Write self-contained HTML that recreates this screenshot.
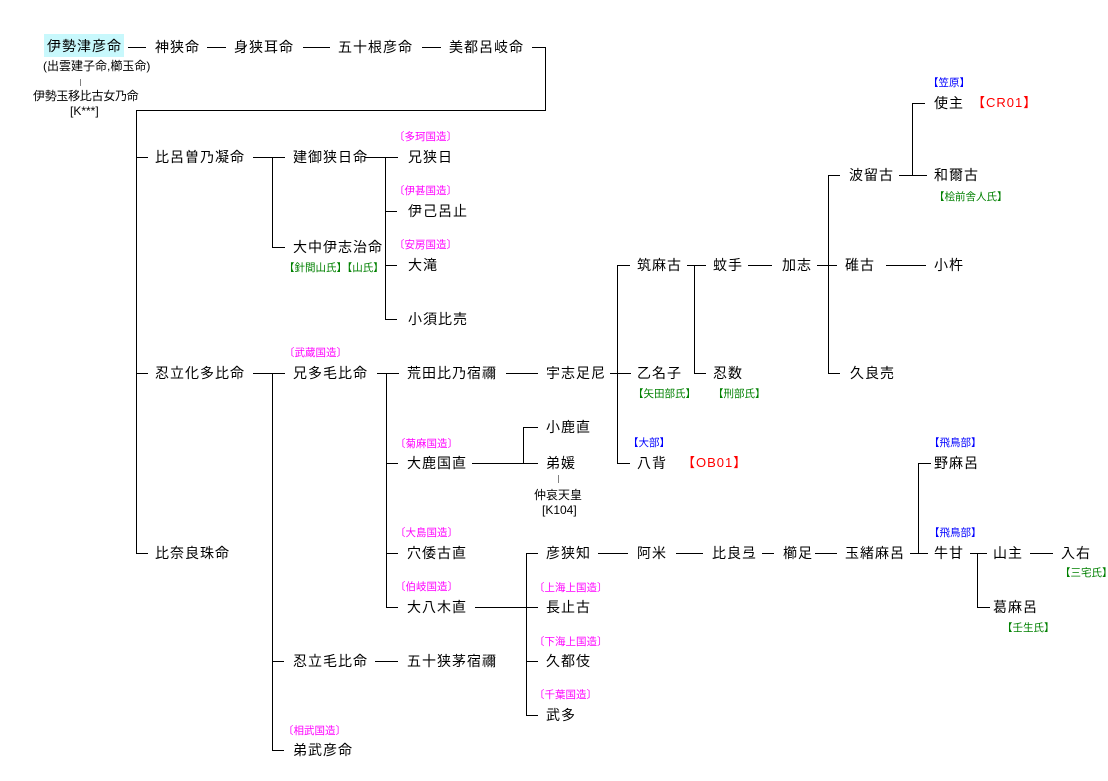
<!DOCTYPE html>
<html><head><meta charset="utf-8">
<style>
html,body{margin:0;padding:0;background:#fff;}
body{width:1108px;height:781px;position:relative;overflow:hidden;font-family:"Liberation Sans","Noto Sans CJK JP",sans-serif;}
.t{position:absolute;white-space:nowrap;font-size:14px;line-height:20px;height:20px;letter-spacing:1px;color:#000;}
.s{position:absolute;white-space:nowrap;font-size:10.5px;line-height:14px;height:14px;letter-spacing:0;}
.m{color:#ff00ff;} .g{color:#008000;} .b{color:#0000ff;}
.r{position:absolute;white-space:nowrap;font-size:13px;line-height:18px;height:18px;color:#ff0000;letter-spacing:1px;}
.k{position:absolute;white-space:nowrap;font-size:12px;line-height:16px;height:16px;color:#000;}
svg{position:absolute;left:0;top:0;}
</style></head><body>
<div style="position:absolute;left:44px;top:34px;width:80px;height:23px;background:#c8f8fc;"></div>
<svg width="1108" height="781" shape-rendering="crispEdges">
<g stroke="#000" stroke-width="1" fill="none">
<path d="M128 47.5H146 M207 47.5H226 M303 47.5H330 M422 47.5H441 M532 47.5H545.5 V110.5 H136.5 V553.5 H148"/>
<path d="M136 157.5H148 M136 373.5H148"/>
<path d="M253 157.5H285 M272.5 157V247.5H285"/>
<path d="M365 157.5H398 M385.5 157V319.5H397 M385 211.5H397 M385 265.5H397"/>
<path d="M253 373.5H285 M272.5 373V750.5H284 M272 661.5H284"/>
<path d="M377 373.5H399 M386.5 373V607.5H398 M386 463.5H398 M386 553.5H398"/>
<path d="M506 373.5H538"/>
<path d="M610 373.5H631 M630 265.5H617.5V463.5H630"/>
<path d="M472 463.5H538 M538 427.5H523.5V463"/>
<path d="M475 607.5H538 M538 553.5H526.5V715.5H538 M526 661.5H538"/>
<path d="M375 661.5H398"/>
<path d="M598 553.5H628 M676 553.5H703 M762 553.5H774 M815 553.5H837 M910 553.5H928 M970 553.5H987 M1030 553.5H1053"/>
<path d="M931 463.5H918.5V553"/>
<path d="M977.5 553V607.5H990"/>
<path d="M687 265.5H706 M694.5 265V373.5H706"/>
<path d="M748 265.5H772 M817 265.5H837 M840 175.5H828.5V373.5H840"/>
<path d="M886 265.5H926"/>
<path d="M899 175.5H927 M925 103.5H912.5V175"/>
</g>
<g stroke="#808080" stroke-width="1">
<path d="M80.5 79V86 M558.5 475V483"/>
</g>
</svg>

<div class="t" style="left:47px;top:36px;">伊勢津彦命</div>
<div class="t" style="left:155px;top:37px;">神狭命</div>
<div class="t" style="left:234px;top:37px;">身狭耳命</div>
<div class="t" style="left:338px;top:37px;">五十根彦命</div>
<div class="t" style="left:449px;top:37px;">美都呂岐命</div>

<div class="k" style="left:43px;top:58px;">(出雲建子命,櫛玉命)</div>
<div class="k" style="left:33px;top:88px;letter-spacing:-0.3px;">伊勢玉移比古女乃命</div>
<div class="k" style="left:70px;top:103px;">[K***]</div>

<div class="t" style="left:155px;top:147px;">比呂曽乃凝命</div>
<div class="t" style="left:293px;top:147px;">建御狭日命</div>
<div class="t" style="left:408px;top:147px;">兄狭日</div>
<div class="t" style="left:408px;top:201px;">伊己呂止</div>
<div class="t" style="left:293px;top:237px;">大中伊志治命</div>
<div class="t" style="left:408px;top:255px;">大滝</div>
<div class="t" style="left:408px;top:309px;">小須比売</div>

<div class="t" style="left:155px;top:363px;">忍立化多比命</div>
<div class="t" style="left:293px;top:363px;">兄多毛比命</div>
<div class="t" style="left:407px;top:363px;">荒田比乃宿禰</div>
<div class="t" style="left:546px;top:363px;">宇志足尼</div>
<div class="t" style="left:637px;top:363px;">乙名子</div>
<div class="t" style="left:713px;top:363px;">忍数</div>
<div class="t" style="left:850px;top:363px;">久良売</div>

<div class="t" style="left:546px;top:417px;">小鹿直</div>
<div class="t" style="left:407px;top:453px;">大鹿国直</div>
<div class="t" style="left:546px;top:453px;">弟媛</div>
<div class="t" style="left:637px;top:453px;">八背</div>
<div class="t" style="left:934px;top:453px;">野麻呂</div>

<div class="k" style="left:534px;top:487px;">仲哀天皇</div>
<div class="k" style="left:542px;top:502px;">[K104]</div>

<div class="t" style="left:155px;top:543px;">比奈良珠命</div>
<div class="t" style="left:407px;top:543px;">穴倭古直</div>
<div class="t" style="left:546px;top:543px;">彦狭知</div>
<div class="t" style="left:637px;top:543px;">阿米</div>
<div class="t" style="left:712px;top:543px;">比良弖</div>
<div class="t" style="left:783px;top:543px;">櫛足</div>
<div class="t" style="left:845px;top:543px;">玉緒麻呂</div>
<div class="t" style="left:934px;top:543px;">牛甘</div>
<div class="t" style="left:993px;top:543px;">山主</div>
<div class="t" style="left:1061px;top:543px;">入右</div>

<div class="t" style="left:407px;top:597px;">大八木直</div>
<div class="t" style="left:546px;top:597px;">長止古</div>
<div class="t" style="left:993px;top:597px;">葛麻呂</div>
<div class="t" style="left:293px;top:651px;">忍立毛比命</div>
<div class="t" style="left:407px;top:651px;">五十狭茅宿禰</div>
<div class="t" style="left:546px;top:651px;">久都伎</div>
<div class="t" style="left:546px;top:705px;">武多</div>
<div class="t" style="left:293px;top:740px;">弟武彦命</div>

<div class="t" style="left:637px;top:255px;">筑麻古</div>
<div class="t" style="left:713px;top:255px;">蚊手</div>
<div class="t" style="left:782px;top:255px;">加志</div>
<div class="t" style="left:845px;top:255px;">碓古</div>
<div class="t" style="left:934px;top:255px;">小杵</div>
<div class="t" style="left:849px;top:165px;">波留古</div>
<div class="t" style="left:934px;top:93px;">使主</div>
<div class="t" style="left:934px;top:165px;">和爾古</div>

<div class="s m" style="left:394px;top:130px;">〔多珂国造〕</div>
<div class="s m" style="left:394px;top:184px;">〔伊甚国造〕</div>
<div class="s m" style="left:394px;top:238px;">〔安房国造〕</div>
<div class="s g" style="left:284px;top:261px;">【針間山氏】【山氏】</div>
<div class="s m" style="left:284px;top:346px;">〔武蔵国造〕</div>
<div class="s m" style="left:395px;top:437px;">〔菊麻国造〕</div>
<div class="s m" style="left:395px;top:526px;">〔大島国造〕</div>
<div class="s m" style="left:395px;top:580px;">〔伯岐国造〕</div>
<div class="s m" style="left:534px;top:581px;">〔上海上国造〕</div>
<div class="s m" style="left:534px;top:635px;">〔下海上国造〕</div>
<div class="s m" style="left:534px;top:688px;">〔千葉国造〕</div>
<div class="s m" style="left:283px;top:724px;">〔相武国造〕</div>
<div class="s g" style="left:633px;top:387px;">【矢田部氏】</div>
<div class="s g" style="left:713px;top:387px;">【刑部氏】</div>
<div class="s b" style="left:628px;top:436px;">【大部】</div>
<div class="s b" style="left:929px;top:436px;">【飛鳥部】</div>
<div class="s b" style="left:929px;top:526px;">【飛鳥部】</div>
<div class="s b" style="left:928px;top:76px;">【笠原】</div>
<div class="s g" style="left:934px;top:190px;">【桧前舎人氏】</div>
<div class="s g" style="left:1060px;top:566px;">【三宅氏】</div>
<div class="s g" style="left:1002px;top:621px;">【壬生氏】</div>

<div class="r" style="left:972px;top:94px;">【CR01】</div>
<div class="r" style="left:682px;top:454px;">【OB01】</div>
</body></html>
